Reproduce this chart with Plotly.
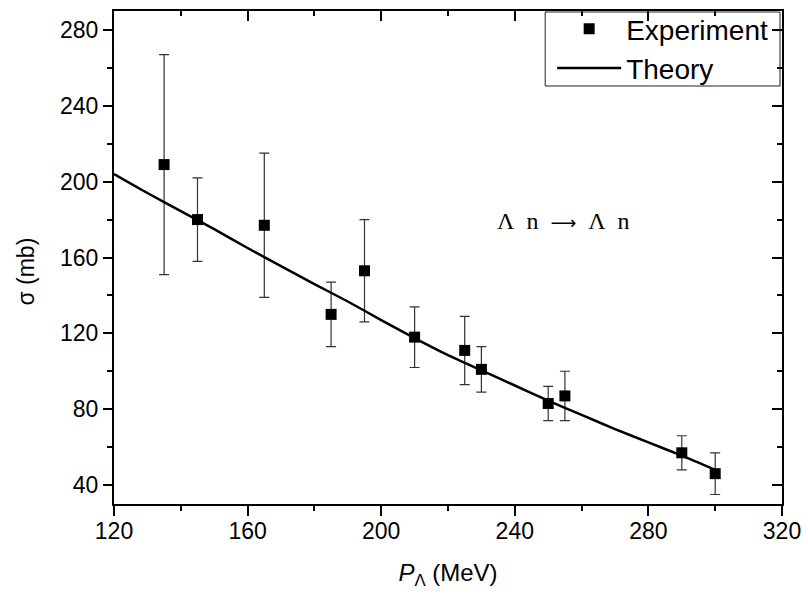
import plotly.graph_objects as go

# Experimental data
exp_x = [135, 145, 165, 185, 195, 210, 225, 230, 250, 255, 290, 300]
exp_y = [209, 180, 177, 130, 153, 118, 111, 101, 83, 87, 57, 46]
exp_err = [58, 22, 38, 17, 27, 16, 18, 12, 9, 13, 9, 11]

# Theory curve
th_x = [120, 130, 140, 150, 160, 170, 180, 190, 200, 210, 220, 230, 240, 250, 260, 270, 280, 290, 300]
th_y = [204, 194, 184.5, 175, 165, 155.5, 146, 136.8, 127, 117.5, 108.5, 100.5, 92.5, 84.5, 77, 69.5, 62.5, 55.5, 48]

x_ticks = [120, 160, 200, 240, 280, 320]
y_ticks = [40, 80, 120, 160, 200, 240, 280]
x_range = [120, 320]
y_range = [30, 290]

FONT = "Liberation Sans, Arial, sans-serif"
W, H = 808, 597
ML, MR, MT, MB = 113.5, 26, 11, 93
PW, PH = W - ML - MR, H - MT - MB


def px_x(p):
    return (p - ML) / PW


def px_y(p):
    return (H - MB - p) / PH


fig = go.Figure()

fig.add_trace(go.Scatter(
    x=exp_x, y=exp_y, mode="markers", name="Experiment",
    marker=dict(symbol="square", size=11, color="black"),
    error_y=dict(type="data", array=exp_err, visible=True,
                 color="#333333", thickness=1.2, width=5),
))

fig.add_trace(go.Scatter(
    x=th_x, y=th_y, mode="lines", name="Theory",
    line=dict(color="black", width=2.5, shape="spline", smoothing=0.6),
))

# invisible trace to activate the mirrored (top/right) axes
fig.add_trace(go.Scatter(x=[None], y=[None], xaxis="x2", yaxis="y2",
                         showlegend=False, hoverinfo="skip"))

fig.update_layout(
    width=W, height=H,
    margin=dict(l=ML, r=MR, t=MT, b=MB, autoexpand=False),
    paper_bgcolor="white", plot_bgcolor="white",
    font=dict(family=FONT, color="black", size=22),
    showlegend=True,
    legend=dict(
        x=px_x(552), xanchor="left", y=px_y(4), yanchor="top",
        bgcolor="rgba(0,0,0,0)", borderwidth=0,
        font=dict(family=FONT, size=28, color="black"),
        itemwidth=64, tracegroupgap=0,
    ),
    xaxis=dict(
        range=x_range, tickmode="array", tickvals=x_ticks,
        ticktext=[str(v) for v in x_ticks],
        showgrid=False, zeroline=False,
        showline=True, linecolor="black", linewidth=2,
        ticks="outside", ticklen=10, tickwidth=2, tickcolor="black",
        minor=dict(ticks="outside", dtick=20, tick0=120, ticklen=5,
                   tickwidth=2, tickcolor="black", showgrid=False),
        tickfont=dict(family=FONT, size=23),
        ticklabelstandoff=-5,
        title=dict(text="<i>P</i><sub>Λ</sub> (MeV)",
                   font=dict(family=FONT, size=24), standoff=22),
        automargin=False,
    ),
    yaxis=dict(
        range=y_range, tickmode="array", tickvals=y_ticks,
        ticktext=[str(v) for v in y_ticks],
        showgrid=False, zeroline=False,
        showline=True, linecolor="black", linewidth=2,
        ticks="outside", ticklen=9, tickwidth=2, tickcolor="black",
        minor=dict(ticks="outside", dtick=20, tick0=40, ticklen=5,
                   tickwidth=2, tickcolor="black", showgrid=False),
        tickfont=dict(family=FONT, size=23),
        automargin=False,
    ),
    xaxis2=dict(
        range=x_range, overlaying="x", side="top", anchor="y",
        tickmode="array", tickvals=x_ticks, showticklabels=False,
        showgrid=False, zeroline=False,
        showline=True, linecolor="black", linewidth=2,
        ticks="inside", ticklen=10, tickwidth=2, tickcolor="black",
        minor=dict(ticks="inside", dtick=20, tick0=120, ticklen=5,
                   tickwidth=2, tickcolor="black", showgrid=False),
    ),
    yaxis2=dict(
        range=y_range, overlaying="y", side="right", anchor="x",
        tickmode="array", tickvals=y_ticks, showticklabels=False,
        showgrid=False, zeroline=False,
        showline=True, linecolor="black", linewidth=2,
        ticks="inside", ticklen=10, tickwidth=2, tickcolor="black",
        minor=dict(ticks="inside", dtick=20, tick0=40, ticklen=5,
                   tickwidth=2, tickcolor="black", showgrid=False),
    ),
    shapes=[
        dict(type="rect", xref="paper", yref="paper",
             x0=px_x(545), x1=px_x(780), y0=px_y(86), y1=px_y(12),
             line=dict(color="#222222", width=1), fillcolor="rgba(0,0,0,0)",
             layer="above"),
    ],
    annotations=[
        dict(text="σ (mb)", textangle=-90, xref="paper", yref="paper",
             x=px_x(25), y=px_y(272), xanchor="center", yanchor="middle",
             showarrow=False, font=dict(family=FONT, size=23)),
        dict(text="Λ\u2002n\u2002<span style='font-family:DejaVu Sans;font-size:18px'>⟶</span>\u2002Λ\u2002n",
             xref="x", yref="y",
             x=254.5, y=179, xanchor="center", yanchor="middle",
             showarrow=False,
             font=dict(family="Liberation Serif, Times New Roman, serif", size=24)),
    ],
)

fig.write_html("out.html", config={"displayModeBar": False},
               post_script="document.body.style.margin='0px';document.body.style.overflow='hidden';")
